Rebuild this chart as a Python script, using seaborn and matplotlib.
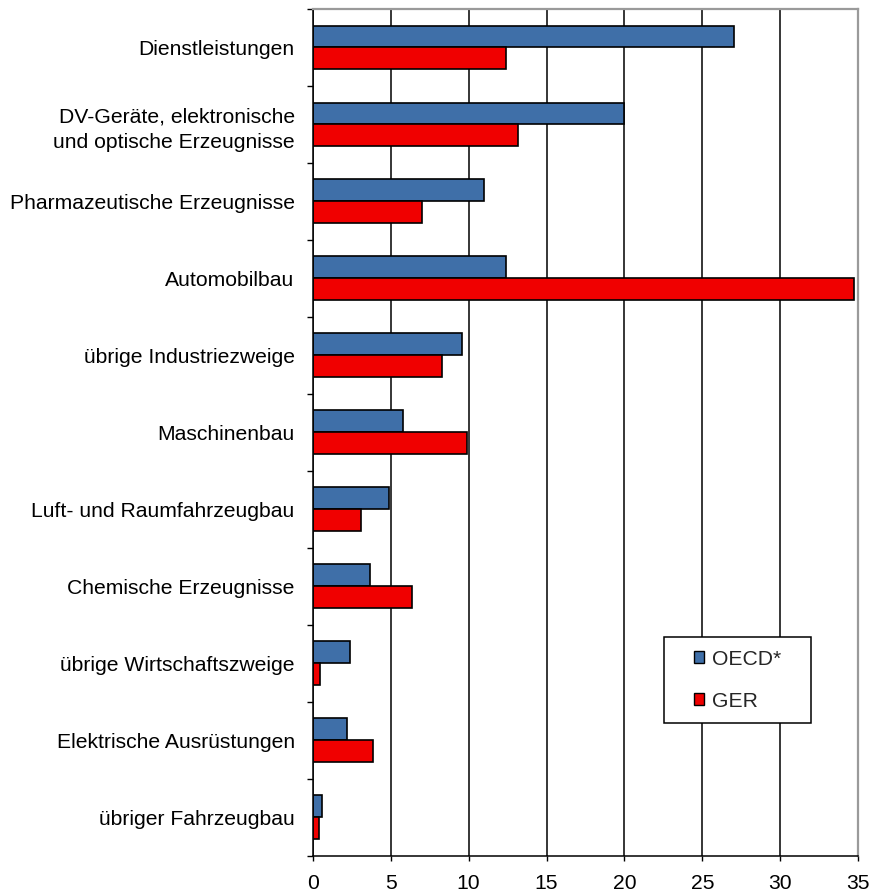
import numpy as np
import pandas as pd
import matplotlib
matplotlib.use("Agg")
import matplotlib.pyplot as plt
from matplotlib.patches import Patch, Rectangle
import seaborn as sns

# data
categories = [
    "Dienstleistungen",
    "DV-Geräte, elektronische\nund optische Erzeugnisse",
    "Pharmazeutische Erzeugnisse",
    "Automobilbau",
    "übrige Industriezweige",
    "Maschinenbau",
    "Luft- und Raumfahrzeugbau",
    "Chemische Erzeugnisse",
    "übrige Wirtschaftszweige",
    "Elektrische Ausrüstungen",
    "übriger Fahrzeugbau",
]
oecd = [27.0, 20.0, 11.0, 12.4, 9.6, 5.8, 4.9, 3.7, 2.4, 2.2, 0.6]
ger = [12.4, 13.2, 7.0, 34.7, 8.3, 9.9, 3.1, 6.4, 0.5, 3.9, 0.4]
series = ["OECD*", "GER"]
x_ticks = [0, 5, 10, 15, 20, 25, 30, 35]

blue = "#3F6FA8"
red = "#F00000"

df = pd.DataFrame({
    "Kategorie": categories * 2,
    "Wert": oecd + ger,
    "Reihe": [series[0]] * len(oecd) + [series[1]] * len(ger),
})

sns.set_theme(style="white")
plt.rcParams["font.family"] = ["Liberation Sans", "DejaVu Sans"]

fig = plt.figure(figsize=(8.72, 8.92), dpi=100)
ax = fig.add_axes([0.3586, 0.0409, 0.6257, 0.949])

sns.barplot(data=df, x="Wert", y="Kategorie", hue="Reihe", orient="h",
            palette=[blue, red], width=0.57, saturation=1,
            edgecolor="black", linewidth=1.2, ax=ax, legend=False)

ax.set_xlim(0, 35)
ax.set_xticks(x_ticks)
ax.set_ylim(len(categories) - 0.5, -0.5)
ax.set_yticks(np.arange(-0.5, len(categories), 1), minor=True)
ax.set_xlabel("")
ax.set_ylabel("")

ax.tick_params(axis="y", which="major", length=0, pad=13, labelsize=15.2, labelcolor="black")
ax.tick_params(axis="y", which="minor", length=4.3, width=1, color="black", direction="out", left=True)
ax.tick_params(axis="x", length=3.6, width=1, color="black", direction="out", bottom=True,
               pad=10, labelsize=15.2, labelcolor="black")
for lab in ax.get_yticklabels():
    lab.set_linespacing(1.45)

ax.set_axisbelow(True)
ax.xaxis.grid(True, color="black", linewidth=1.1)
ax.yaxis.grid(False)

for s in ["left", "bottom"]:
    ax.spines[s].set_color("black")
    ax.spines[s].set_linewidth(1.1)
for s in ["top", "right"]:
    ax.spines[s].set_color("#9A9A9A")
    ax.spines[s].set_linewidth(1.6)

# legend box
ax.add_patch(Rectangle((0.644, 0.1565), 0.269, 0.1015, transform=ax.transAxes,
                       facecolor="white", edgecolor="black", linewidth=1.1, zorder=4))
handles = [Patch(facecolor=blue, edgecolor="black", label=series[0]),
           Patch(facecolor=red, edgecolor="black", label=series[1])]
leg = ax.legend(handles=handles, loc="center", bbox_to_anchor=(0.7785, 0.207),
                frameon=False, fontsize=15.2, handlelength=0.5, handleheight=0.5,
                handletextpad=0.35, labelspacing=1.1)
leg.set_zorder(5)

fig.savefig("out.png", dpi=100)
